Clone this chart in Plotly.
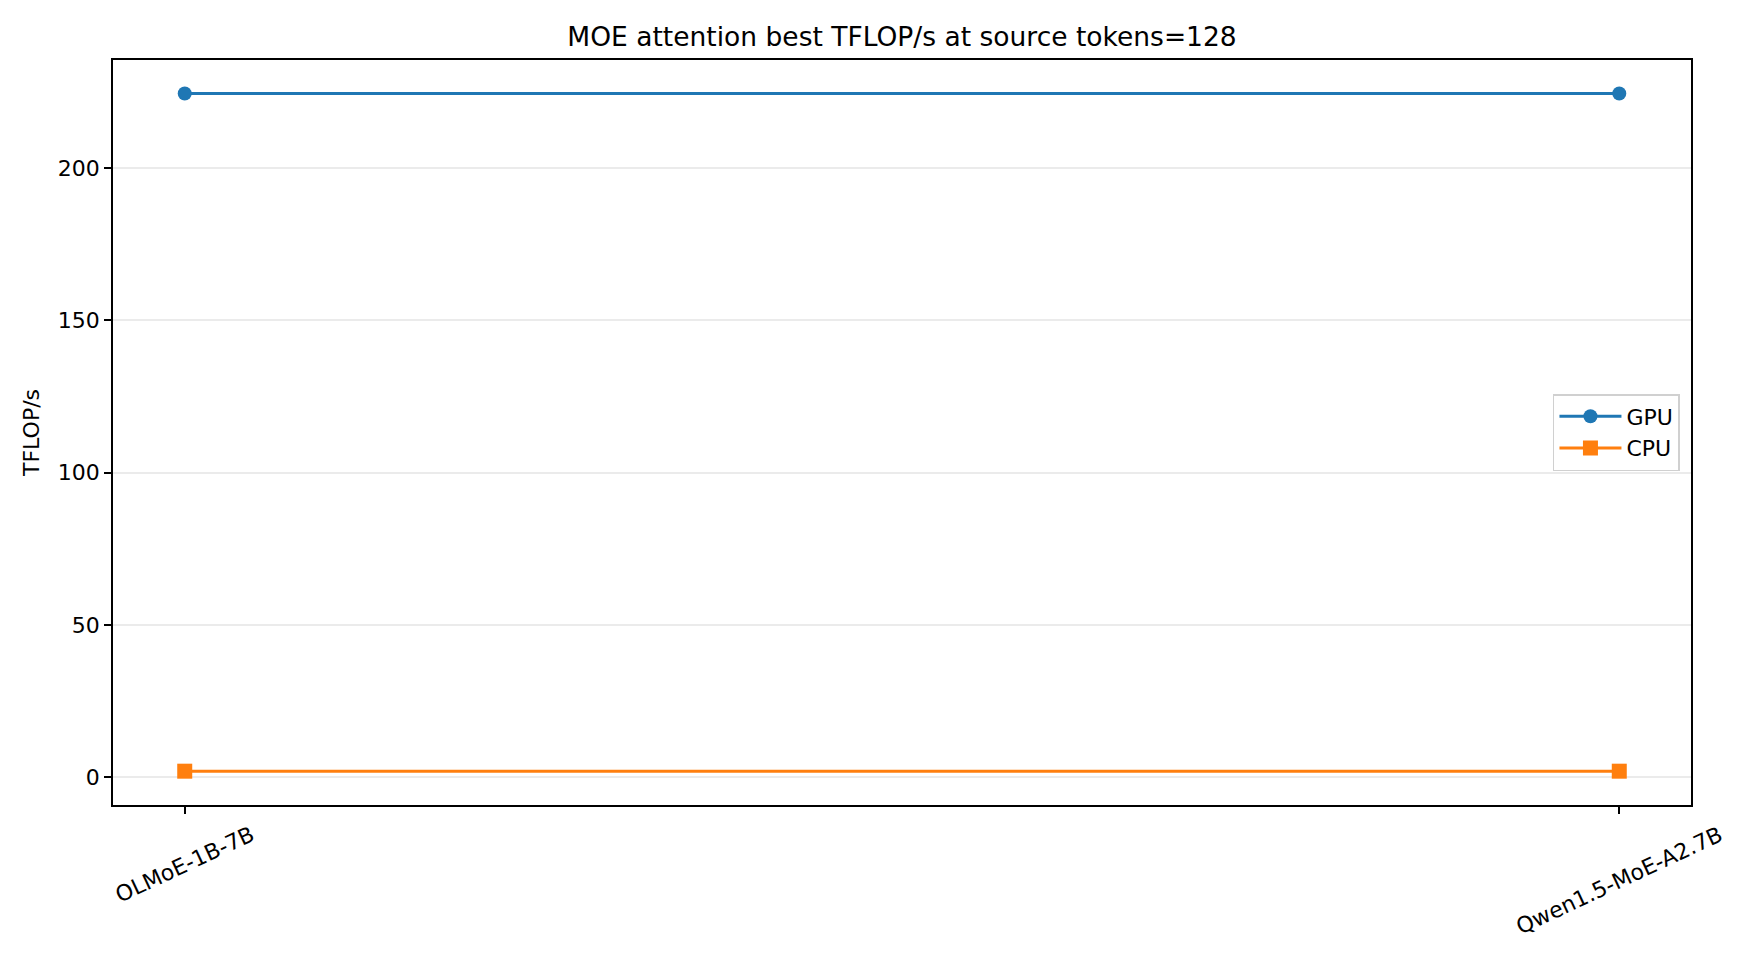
import plotly.graph_objects as go

models = ["OLMoE-1B-7B", "Qwen1.5-MoE-A2.7B"]
gpu_tflops = [224.5, 224.5]
cpu_tflops = [2.0, 2.0]
y_ticks = [0, 50, 100, 150, 200]

font = dict(family="DejaVu Sans", size=22, color="black")
x_pos = list(range(len(models)))

fig = go.Figure()
fig.add_trace(go.Scatter(x=x_pos, y=gpu_tflops, name="GPU", mode="lines+markers",
                         line=dict(color="#1f77b4", width=3),
                         marker=dict(symbol="circle", size=14, color="#1f77b4")))
fig.add_trace(go.Scatter(x=x_pos, y=cpu_tflops, name="CPU", mode="lines+markers",
                         line=dict(color="#ff7f0e", width=3),
                         marker=dict(symbol="square", size=15, color="#ff7f0e")))

# rotated category labels, centred under the ticks (matplotlib style)
for i, m in zip(x_pos, models):
    fig.add_annotation(x=i, y=0, xref="x", yref="paper", text=m, showarrow=False,
                       textangle=-25, xanchor="center", yanchor="top", yshift=-14,
                       font=font)

fig.update_layout(
    width=1760, height=960,
    margin=dict(l=113, r=69, t=60, b=155),
    plot_bgcolor="white", paper_bgcolor="white",
    font=font,
    title=dict(text="MOE attention best TFLOP/s at source tokens=128",
               x=(113 + 1691) / 2 / 1760, xanchor="center",
               y=1 - 37 / 960, yanchor="middle", yref="container",
               font=dict(family="DejaVu Sans", size=26.5, color="black")),
    legend=dict(x=0.993, xanchor="right", y=0.5, yanchor="middle",
                bgcolor="white", bordercolor="#d0d0d0", borderwidth=1.5,
                font=font, itemwidth=62),
    showlegend=True,
)
fig.update_xaxes(range=[-0.05, 1.05], tickvals=x_pos, ticktext=["", ""],
                 showgrid=False, zeroline=False,
                 showline=True, mirror=True, linecolor="black", linewidth=1.8,
                 ticks="outside", ticklen=7, tickwidth=1.8, tickcolor="black")
fig.update_yaxes(range=[-9.1, 235.5], tickvals=y_ticks,
                 title=dict(text="TFLOP/s", font=font, standoff=12),
                 showgrid=True, gridcolor="#ebebeb", gridwidth=1.5, zeroline=False,
                 showline=True, mirror=True, linecolor="black", linewidth=1.8,
                 ticks="outside", ticklen=7, tickwidth=1.8, tickcolor="black",
                 tickfont=font)

fig.write_html("out.html", config={"displayModeBar": False},
               post_script="document.body.style.margin='0';")
